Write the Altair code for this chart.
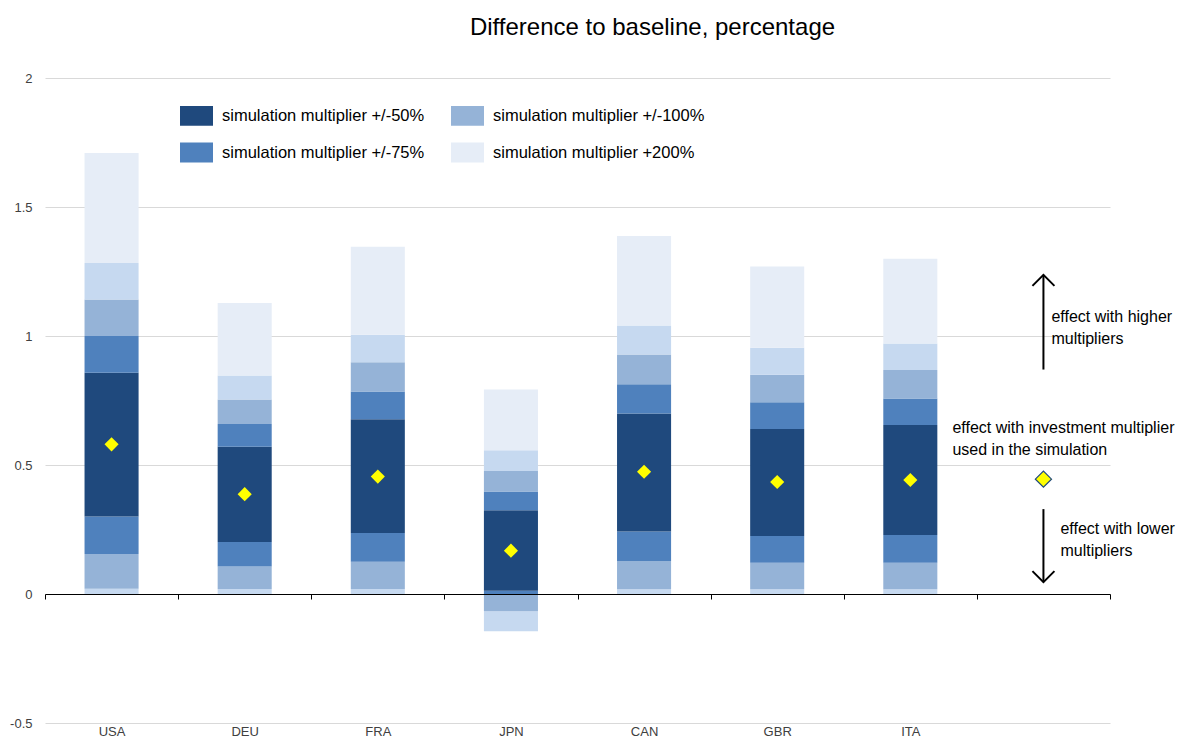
import altair as alt
import pandas as pd

FONT = "Liberation Sans"

countries = ["USA", "DEU", "FRA", "JPN", "CAN", "GBR", "ITA"]
slot = " "  # empty band on the right that holds the key

# band edges, bottom to top
lb_lo = [0.0, 0.0, 0.0, -0.144, 0.0, 0.0, 0.0]
grey_lo = [0.020, 0.019, 0.019, -0.067, 0.018, 0.018, 0.018]
med_lo = [0.155, 0.107, 0.125, 0.000, 0.128, 0.121, 0.121]
dark_lo = [0.300, 0.202, 0.236, 0.013, 0.242, 0.225, 0.229]
dark_hi = [0.858, 0.571, 0.677, 0.325, 0.700, 0.640, 0.655]
med_hi = [1.000, 0.659, 0.785, 0.397, 0.813, 0.743, 0.758]
grey_hi = [1.141, 0.754, 0.898, 0.477, 0.928, 0.850, 0.868]
lb_hi = [1.283, 0.847, 1.005, 0.557, 1.041, 0.954, 0.971]
top = [1.709, 1.128, 1.346, 0.793, 1.388, 1.269, 1.299]
central = [0.580, 0.387, 0.455, 0.168, 0.474, 0.434, 0.442]

# key on the right
key_value = 0.445
up_arrow = [0.87, 1.237]
down_arrow = [0.329, 0.046]
ann_text = ["effect with higher\nmultipliers",
            "effect with investment multiplier\nused in the simulation",
            "effect with lower\nmultipliers"]
ann_y = [1.074, 0.643, 0.252]

L50 = "simulation multiplier +/-50%"
L75 = "simulation multiplier +/-75%"
L100 = "simulation multiplier +/-100%"
L200 = "simulation multiplier +200%"
L150 = "simulation multiplier +/-150%"  # drawn but not in the legend

levels = [L50, L75, L100, L200, L150]
colors = ["#1f497d", "#4f81bd", "#95b3d7", "#e6edf7", "#c6d9f0"]

bands = [(L150, lb_lo, grey_lo), (L100, grey_lo, med_lo), (L75, med_lo, dark_lo),
         (L50, dark_lo, dark_hi), (L75, dark_hi, med_hi), (L100, med_hi, grey_hi),
         (L150, grey_hi, lb_hi), (L200, lb_hi, top)]

rows = []
for i, c in enumerate(countries):
    for lv, lo, hi in bands:
        rows.append({"country": c, "level": lv, "lo": lo[i], "hi": hi[i]})
seg = pd.DataFrame(rows)
pts = pd.DataFrame({"country": countries, "value": central})

x = alt.X("country:N", sort=countries + [slot],
          scale=alt.Scale(domain=countries + [slot], paddingInner=0, paddingOuter=0),
          axis=alt.Axis(title=None, orient="bottom", offset=-129, domainColor="black",
                        tickColor="black", tickSize=5, tickBand="extent", labelAngle=0,
                        labelPadding=126, labelFontSize=13, labelColor="#404040",
                        labelFont=FONT, zindex=1, grid=False))
y_scale = alt.Scale(domain=[-0.5, 2], nice=False)

bars = alt.Chart(seg).mark_bar(width=alt.RelativeBandSize(0.406)).encode(
    x=x,
    y=alt.Y("lo:Q", scale=y_scale,
            axis=alt.Axis(title=None, values=[-0.5, 0, 0.5, 1, 1.5, 2], domain=False,
                          ticks=False, grid=True, gridColor="#d9d9d9", labelPadding=13,
                          labelExpr="'' + datum.value", labelFontSize=13,
                          labelColor="#404040", labelFont=FONT)),
    y2="hi:Q",
    color=alt.Color("level:N", scale=alt.Scale(domain=levels, range=colors),
                    legend=alt.Legend(title=None, values=[L50, L75, L100, L200], columns=2,
                                      orient="none", legendX=135, legendY=21,
                                      symbolType="M-1,-0.6H1V0.6H-1Z", symbolSize=1089,
                                      symbolStrokeWidth=0, symbolOpacity=1,
                                      labelFont=FONT, labelFontSize=16.5, labelColor="black",
                                      labelLimit=400, labelOffset=9,
                                      columnPadding=26, rowPadding=10)),
)

diamonds = alt.Chart(pts).mark_point(shape="diamond", filled=True, fill="#ffff00",
                                     opacity=1, size=200, strokeWidth=0).encode(
    x=alt.X("country:N"), y=alt.Y("value:Q"))

key_df = pd.DataFrame({"country": [slot], "value": [key_value]})
key = alt.Chart(key_df).mark_point(shape="diamond", filled=True, fill="#ffff00", opacity=1,
                                   stroke="#1f497d", strokeWidth=1.2, size=260).encode(
    x=alt.X("country:N"), y=alt.Y("value:Q"))

arrows_df = pd.DataFrame({"country": [slot, slot],
                          "y": [up_arrow[0], down_arrow[0]],
                          "y2": [up_arrow[1], down_arrow[1]]})
shafts = alt.Chart(arrows_df).mark_rule(color="black", strokeWidth=2).encode(
    x=alt.X("country:N"), y=alt.Y("y:Q"), y2="y2:Q")

head_up = alt.Chart(pd.DataFrame({"country": [slot], "y": [up_arrow[1]]})).mark_point(
    shape="M-1,1L0,0L1,1", filled=False, stroke="black", strokeWidth=2, size=484, opacity=1
).encode(x=alt.X("country:N"), y=alt.Y("y:Q"))
head_down = alt.Chart(pd.DataFrame({"country": [slot], "y": [down_arrow[1]]})).mark_point(
    shape="M-1,-1L0,0L1,-1", filled=False, stroke="black", strokeWidth=2, size=484, opacity=1
).encode(x=alt.X("country:N"), y=alt.Y("y:Q"))

texts = []
for label, yv, dx in zip(ann_text, ann_y, [8, -91, 17]):
    df = pd.DataFrame({"country": [slot], "y": [yv], "label": [label]})
    texts.append(alt.Chart(df).mark_text(align="left", baseline="middle", dx=dx,
                                         fontSize=16, font=FONT, color="black",
                                         lineBreak="\n", lineHeight=22).encode(
        x=alt.X("country:N"), y=alt.Y("y:Q"), text="label:N"))

chart = alt.layer(bars, diamonds, key, shafts, head_up, head_down, *texts).properties(
    width=1065, height=645,
    autosize=alt.AutoSizeParams(type="none"),
    padding={"left": 37, "top": 70, "right": 66, "bottom": 14},
    title=alt.TitleParams("Difference to baseline, percentage", fontSize=24,
                          fontWeight="normal", font=FONT, color="black", anchor="middle",
                          frame="group", dx=75, offset=13, baseline="alphabetic"),
).configure_view(stroke=None)

chart.save("out.html", embed_options={"renderer": "svg", "actions": False})
